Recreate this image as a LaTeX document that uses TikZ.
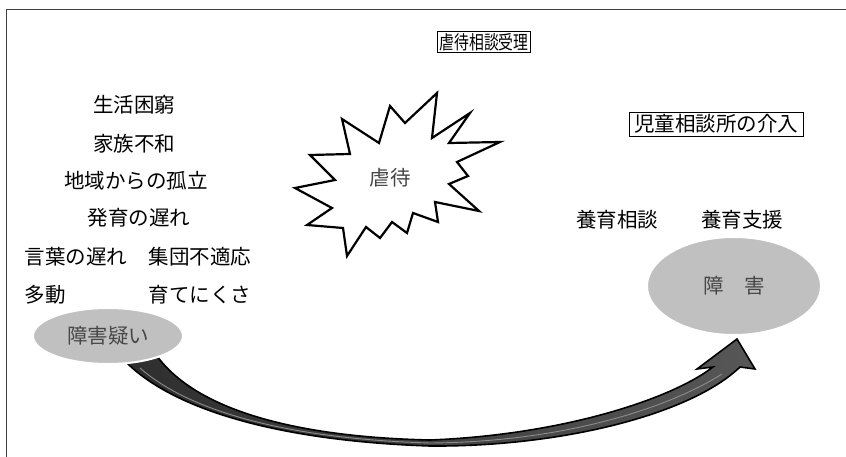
\documentclass[tikz,border=0pt]{standalone}
\usepackage{fontspec}
\usepackage{graphicx}
\newfontfamily\jp{Noto Sans CJK JP}
\usetikzlibrary{shapes.geometric}
\definecolor{ellgray}{RGB}{192,192,192}
\definecolor{framec}{RGB}{64,64,64}
\definecolor{txtgray}{RGB}{70,70,70}
\begin{document}
\begin{tikzpicture}[x=1pt,y=-1pt,
  lbl/.style={font=\jp\fontsize{20.5}{24}\selectfont, inner sep=0pt, text=black},
  boxlbl/.style={font=\jp\fontsize{20.5}{24}\selectfont, draw=black, line width=0.8pt, inner xsep=5pt, inner ysep=2.5pt},
  blob/.style={ellipse, fill=ellgray, draw=white, line width=2pt, inner sep=0pt, text=txtgray, font=\jp\fontsize{20.5}{24}\selectfont},
  burst/.style={draw=black, line width=2.2pt, line join=miter, fill=white},
  arrowbody/.style={left color=black!82, right color=black!66, draw=black, line width=1.6pt, line join=miter}]
\useasboundingbox (0,0) rectangle (846,457);
\fill[white] (0,0) rectangle (846,457);
\draw[framec, line width=1pt] (846,10) -- (6,10) -- (6,457);

% title box
\node[draw=black, line width=0.8pt, inner xsep=2pt, inner ysep=2pt, font=\jp\fontsize{19}{22}\selectfont] (t1) at (484,42) {\scalebox{0.78}[1]{虐待相談受理}};
\node[boxlbl] (t2) at (716,124) {児童相談所の介入};

% left list
\node[lbl] (a1) at (134,105) {生活困窮};
\node[lbl] (a2) at (134,144) {家族不和};
\node[lbl] (a3) at (136,181) {地域からの孤立};
\node[lbl] (a4) at (139,218) {発育の遅れ};
\node[lbl] (a5) at (76,257) {言葉の遅れ};
\node[lbl] (a6) at (200,257) {集団不適応};
\node[lbl] (a7) at (45,295) {多動};
\node[lbl] (a8) at (200,295) {育てにくさ};

% right labels
\node[lbl] (r1) at (617,220) {養育相談};
\node[lbl] (r2) at (742,220) {養育支援};

% starburst
\draw[burst] (437,93) -- (432,138) -- (470,113) -- (449,143) -- (500,142) -- (457,162) -- (468,176) -- (449,184) -- (479,211) -- (435,202) -- (438,222) -- (413,213) -- (407,233) -- (392,222) -- (380,238) -- (366,227) -- (347,256) -- (343,228) -- (307,225) -- (332,208) -- (295,188) -- (335,180) -- (310,155) -- (350,154) -- (342,119) -- (379,143) -- (390,106) -- (405,123) -- cycle;
\node[lbl, text=txtgray] (g) at (390,178) {虐待};

% curved arrow
\path[arrowbody] (122,358) .. controls (170,410) and (280,441) .. (430,446) .. controls (560,447) and (690,415) .. (740,367) -- (755,369) -- (737,339) -- (697,369) -- (713,367) .. controls (670,400) and (560,435) .. (430,440) .. controls (290,437) and (195,408) .. (157,356) -- cycle;
\draw[black!45, line width=0.9pt] (140,368) .. controls (190,412) and (290,439) .. (430,443) .. controls (560,442) and (665,410) .. (722,374);

% ellipses
\node[blob, minimum width=150pt, minimum height=56pt] (s) at (108,336) {障害疑い};
\node[blob, minimum width=174pt, minimum height=98pt] (b) at (734,286) {障\hspace{1em}害};
\end{tikzpicture}
\end{document}
